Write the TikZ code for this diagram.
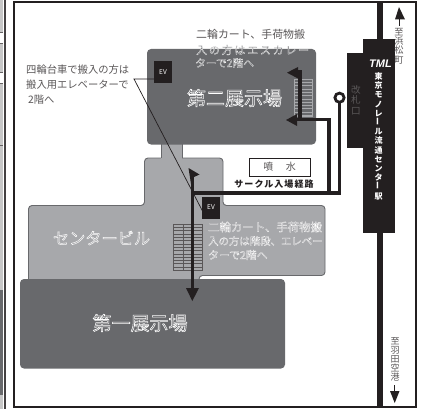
\documentclass[tikz,border=0pt]{standalone}
\usepackage{fontspec}
\setmainfont{Noto Sans CJK JP}
\newfontfamily\logofont{Liberation Sans}
\definecolor{dk}{HTML}{68696C}
\definecolor{md}{HTML}{A7A8AB}
\definecolor{ink}{HTML}{231F20}
\newcommand{\halotext}[3]{\fontsize{#1}{#1}\selectfont\color{#3}\special{pdf:code 1 1 1 RG}\addfontfeature{FakeBold=#2}}
\newcommand{\vbar}{\makebox[1em]{\rotatebox{90}{ー}}}
\tikzset{
 hall/.style={fill=dk,rounded corners=4pt,draw=none},
 wing/.style={fill=md,draw=dk,line width=.9pt,rounded corners=3.5pt},
 route/.style={draw=ink,line width=3.6pt,line join=miter},
 head/.style={fill=ink,draw=none},
 bigt/.style={inner sep=0pt},
 small/.style={font=\fontsize{10.3}{14.6}\selectfont,text=ink!75,inner sep=0pt,align=left},
 evbox/.style={fill=ink,text=white,font=\fontsize{6.5}{6.5}\selectfont,inner sep=0pt,minimum width=18pt,minimum height=22pt},
 stair/.style={draw=ink!75,line width=.35pt},
 vtext/.style={text=ink!75,inner sep=0pt,align=center},
 vwhite/.style={font=\bfseries\fontsize{8}{9.2}\selectfont,text=white,inner sep=0pt,align=center}
}
\begin{document}
\begin{tikzpicture}[x=1pt,y=-1pt]
\useasboundingbox (0,0) rectangle (425,409);
\fill[white] (0,0) rectangle (425,409);
% left strip
\fill[black!22] (0,0) rectangle (3,409);
\fill[white] (0,32) rectangle (3,43);
\fill[white] (0,72) rectangle (3,83);
\fill[dk] (0,290) rectangle (3,395);
\draw[ink!70,line width=.5pt] (0,32)--(3,32) (0,43)--(3,43) (0,72)--(3,72) (0,83)--(3,83) (0,145)--(3,145);
\draw[ink!85,line width=2.6pt] (4.8,0)--(4.8,409);
% frame
\draw[ink,line width=2.2pt] (14.1,2.1) rectangle (415.6,407);
% rail
\fill[ink] (377,2) rectangle (383,406);
% centre building
\draw[wing] (28.5,281) -- (28.5,205.5) -- (144.5,205.5) -- (144.5,158) -- (223,158) -- (223,205.5) -- (325,205.5) -- (325,275.5) -- (199,275.5) -- (199,281);
\fill[md] (161,140) rectangle (182,160);
\draw[dk,line width=.9pt] (161,143)--(161,158) (182,143)--(182,158);
% second hall
\fill[hall] (147,49) rectangle (316,144.5);
% first hall
\fill[hall] (20,279) rectangle (285,368.5);
% stairs
\foreach \y in {224,227.3,...,270}{\draw[stair] (173.5,\y)--(202,\y);}
\draw[stair] (173.5,224) rectangle (202,270) (183.5,224)--(183.5,270);
\foreach \y in {79,82.3,...,116}{\draw[draw=md,line width=.5pt] (294,\y)--(312,\y);}
\draw[md,line width=.5pt] (294,79) rectangle (312,116);
% station
\fill[ink] (363,39) rectangle (395,233);
\fill[ink] (347,53) rectangle (363,148);
\node[font=\logofont\bfseries\itshape\fontsize{11}{11}\selectfont,text=white,inner sep=0pt] (logo) at (380.5,63.5) {TML};
\node[vwhite,anchor=north] (stn) at (378.7,72.5) {東\\京\\モ\\ノ\\レ\\\vbar\\ル\\流\\通\\セ\\ン\\タ\\\vbar\\駅};
\node[vtext,font=\fontsize{9.6}{10.4}\selectfont] (gate) at (356,100) {改\\札\\口};
\node[draw=ink,line width=.8pt,fill=white,minimum width=61pt,minimum height=18pt,inner sep=0pt,font=\fontsize{10}{10}\selectfont,text=ink!75] (fountain) at (279.5,167) {噴\hspace{1.25em}水};
\node[font=\bfseries\fontsize{9}{9}\selectfont\addfontfeature{LetterSpace=12},text=ink,inner sep=0pt] (rt) at (274,184) {サークル入場経路};
% EV
\node[evbox] (ev1) at (163,72) {EV};
% labels
\node[bigt] (h2) at (234.5,98) {\halotext{19}{3}{dk}第二展示場};
\node[bigt] (h1) at (140,323) {\halotext{19}{3}{dk}第一展示場};
\node[bigt] (cb) at (101.5,238) {\halotext{16.2}{2.8}{md}センタービル};
% text
\node[small,anchor=north west] (t1) at (26,65) {四輪台車で搬入の方は\\搬入用エレベーターで\\\hspace{2pt}2階へ};
\node[small,anchor=west,font=\fontsize{10.9}{11}\selectfont] (t2a) at (196,34) {二輪カート、手荷物搬};
\node[anchor=west,inner sep=0pt] (t2b) at (196,50) {\halotext{10.9}{2}{dk}\addfontfeature{LetterSpace=17}入の方はエスカレー};
\node[anchor=west,inner sep=0pt] (t2c) at (195,63) {\halotext{10.7}{2}{dk}ターで2階へ};
\node[anchor=west,inner sep=0pt] (t3a) at (208,227) {\halotext{11.4}{2}{md}二輪カート、手荷物搬};
\node[anchor=west,inner sep=0pt] (t3b) at (208,241) {\halotext{10.4}{2}{md}入の方は階段、エレベー};
\node[anchor=west,inner sep=0pt] (t3c) at (208,255) {\halotext{10.8}{2}{md}ターで2階へ};
\node[vtext,anchor=north,font=\fontsize{9.2}{9.3}\selectfont] (hm) at (399,28) {至\\浜\\松\\町};
\node[vtext,anchor=north,font=\fontsize{9}{9}\selectfont] (hn) at (395,337) {至\\羽\\田\\空\\港};
% pointer (under the second lift box)
\coordinate (pa) at (134,79);
\draw[ink,line width=.7pt] (ev1.west |- pa) -- (pa) -- (203,212);
\node[evbox] (ev2) at (211,207.5) {EV};
% routes
\coordinate (ring) at (339.5,97.7);
\draw[route] (ring) -- (339.5,192.7) -- (192.5,192.7);
\draw[route] (192.5,176) -- (192.5,290);
\draw[route] (329,192.7) -- (329,119.3) -- (296,119.3);
\draw[route] (329,119.3) -- (300,119.3) -- (300,72) -- (296,72);
\draw[ink,line width=2.8pt,fill=white] (ring) circle (4.6pt);
\fill[head] (192.3,301) -- (186,288) -- (199,288) -- cycle;
\fill[head] (188.5,168) -- (199.5,174.5) -- (194,177) -- (191,184) -- cycle;
\fill[head] (286,120) -- (297,114) -- (297,126) -- cycle;
\fill[head] (287,72.7) -- (298,67) -- (298,78.5) -- cycle;
% direction arrows
\fill[head] (399,7) -- (395,19.5) -- (405,19.5) -- cycle;
\draw[ink,line width=1.2pt] (399.5,17)--(399.5,26);
\fill[head] (394.7,403) -- (390,391) -- (399.5,391) -- cycle;
\draw[ink,line width=1.2pt] (394.7,385)--(394.7,393);
\end{tikzpicture}
\end{document}
